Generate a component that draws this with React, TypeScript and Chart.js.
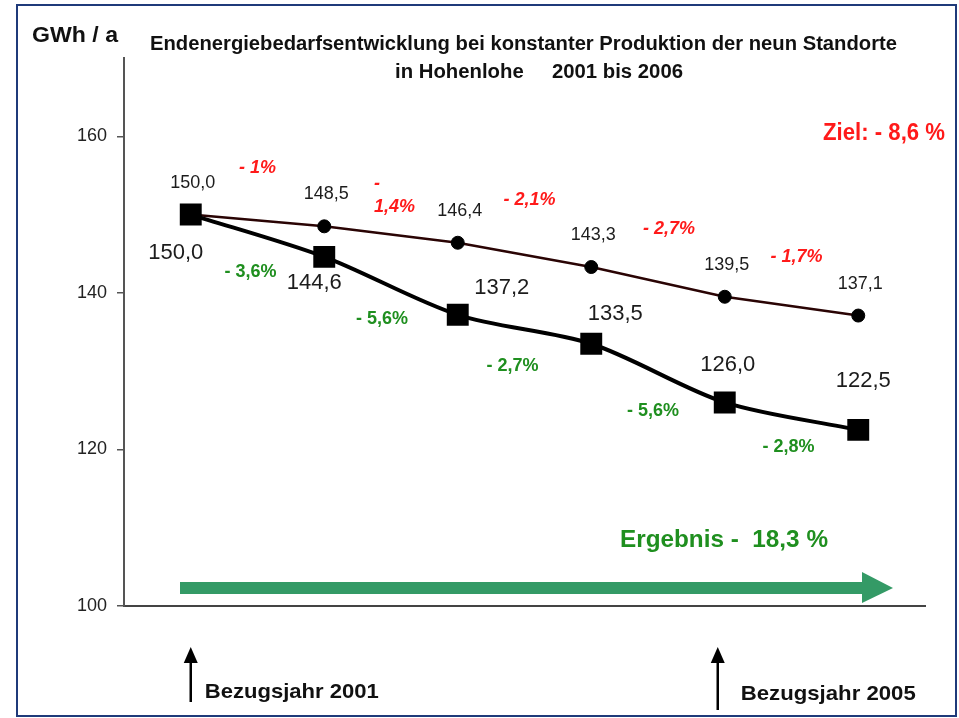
import React, { useEffect, useRef } from "react";
import { Chart, registerables } from "chart.js";

Chart.register(...registerables);

// ---- data ----
const years = ["2001", "2002", "2003", "2004", "2005", "2006"];
const targetValues = [150.0, 148.5, 146.4, 143.3, 139.5, 137.1];
const actualValues = [150.0, 144.6, 137.2, 133.5, 126.0, 122.5];
const targetPct = ["- 1%", "-\n1,4%", "- 2,1%", "- 2,7%", "- 1,7%"];
const actualPct = ["- 3,6%", "- 5,6%", "- 2,7%", "- 5,6%", "- 2,8%"];
const yTicks = [100, 120, 140, 160];
const yMin = 100;
const yMax = 170;
const titleLines = [
  "Endenergiebedarfsentwicklung bei konstanter Produktion der neun Standorte",
  "in Hohenlohe     2001 bis 2006",
];
const unitLabel = "GWh / a";
const goalLabel = "Ziel: - 8,6 %";
const resultLabel = "Ergebnis -  18,3 %";
const refYearLabels = ["Bezugsjahr 2001", "Bezugsjahr 2005"];
const refYearIndex = [0, 4];

// ---- layout / style (not data) ----
const FONT = '"Liberation Sans", Arial, Helvetica, sans-serif';
const RED = "#ff1a1a";
const GREEN = "#1f8f1f";
const ARROW_GREEN = "#349a66";
const DARK = "#1c1c1c";

const targetLabelOffset = [2, -32];
const actualLabelOffsets = [
  [-15, 38],
  [-10, 26],
  [44, -27],
  [24, -30],
  [3, -38],
  [5, -49],
];
const redPctOffsets = [
  [0, -52],
  [-17, -40],
  [5, -55],
  [11, -53],
  [5, -49],
];
const greenPctOffsets = [
  [-7, 36],
  [-9, 33],
  [-12, 37],
  [-5, 38],
  [-3, 31],
];

const fmt = (v: number) => v.toFixed(1).replace(".", ",");

function fitText(
  ctx: CanvasRenderingContext2D,
  s: string,
  left: number,
  baseline: number,
  width: number,
  font: string,
  color: string
) {
  ctx.save();
  ctx.font = font;
  ctx.fillStyle = color;
  ctx.textAlign = "left";
  ctx.textBaseline = "alphabetic";
  const w = ctx.measureText(s).width;
  ctx.translate(left, baseline);
  ctx.scale(width / w, 1);
  ctx.fillText(s, 0, 0);
  ctx.restore();
}

function centerText(
  ctx: CanvasRenderingContext2D,
  s: string,
  x: number,
  y: number,
  font: string,
  color: string
) {
  ctx.save();
  ctx.font = font;
  ctx.fillStyle = color;
  ctx.textAlign = "center";
  ctx.textBaseline = "middle";
  ctx.fillText(s, x, y);
  ctx.restore();
}

function upArrow(ctx: CanvasRenderingContext2D, x: number, top: number, bottom: number) {
  ctx.save();
  ctx.strokeStyle = "#000";
  ctx.fillStyle = "#000";
  ctx.lineWidth = 2.5;
  ctx.beginPath();
  ctx.moveTo(x, top + 12);
  ctx.lineTo(x, bottom);
  ctx.stroke();
  ctx.beginPath();
  ctx.moveTo(x, top);
  ctx.lineTo(x - 7, top + 16);
  ctx.lineTo(x + 7, top + 16);
  ctx.closePath();
  ctx.fill();
  ctx.restore();
}

const annotations = {
  id: "annotations",
  beforeDraw(chart: any) {
    const ctx = chart.ctx;
    ctx.save();
    ctx.fillStyle = "#fff";
    ctx.fillRect(0, 0, chart.width, chart.height);
    ctx.restore();
  },
  afterDatasetsDraw(chart: any) {
    const ctx: CanvasRenderingContext2D = chart.ctx;
    const area = chart.chartArea;
    const actualMeta = chart.getDatasetMeta(0).data;
    const targetMeta = chart.getDatasetMeta(1).data;
    const xScale = chart.scales.x;

    // value labels of target line
    targetMeta.forEach((p: any, i: number) => {
      centerText(
        ctx,
        fmt(targetValues[i]),
        p.x + targetLabelOffset[0],
        p.y + targetLabelOffset[1],
        `18px ${FONT}`,
        DARK
      );
    });
    // value labels of actual line
    actualMeta.forEach((p: any, i: number) => {
      const o = actualLabelOffsets[i];
      centerText(ctx, fmt(actualValues[i]), p.x + o[0], p.y + o[1], `22px ${FONT}`, DARK);
    });
    // percentage changes (target, red italic)
    targetPct.forEach((s, i) => {
      const a = targetMeta[i];
      const b = targetMeta[i + 1];
      const mx = (a.x + b.x) / 2;
      const my = (a.y + b.y) / 2;
      const o = redPctOffsets[i];
      const font = `italic bold 18px ${FONT}`;
      if (s.includes("\n")) {
        const parts = s.split("\n");
        ctx.save();
        ctx.font = font;
        ctx.fillStyle = RED;
        ctx.textAlign = "left";
        ctx.textBaseline = "middle";
        ctx.fillText(parts[0], mx + o[0], my + o[1] - 11);
        ctx.fillText(parts[1], mx + o[0], my + o[1] + 12);
        ctx.restore();
      } else {
        centerText(ctx, s, mx + o[0], my + o[1], font, RED);
      }
    });
    // percentage changes (actual, green)
    actualPct.forEach((s, i) => {
      const a = actualMeta[i];
      const b = actualMeta[i + 1];
      const mx = (a.x + b.x) / 2;
      const my = (a.y + b.y) / 2;
      const o = greenPctOffsets[i];
      centerText(ctx, s, mx + o[0], my + o[1], `bold 18px ${FONT}`, GREEN);
    });

    // big green arrow
    const ay = area.bottom - 18;
    const ax0 = area.left + 56;
    const ax1 = area.right - 32;
    ctx.save();
    ctx.fillStyle = ARROW_GREEN;
    ctx.fillRect(ax0, ay - 6, ax1 - 30 - ax0, 12);
    ctx.beginPath();
    ctx.moveTo(ax1 - 31, ay - 16);
    ctx.lineTo(ax1, ay);
    ctx.lineTo(ax1 - 31, ay + 15);
    ctx.closePath();
    ctx.fill();
    ctx.restore();

    // result text
    fitText(ctx, resultLabel, 620, 547, 208, `bold 24px ${FONT}`, GREEN);

    // reference year arrows
    const x1 = xScale.getPixelForValue(refYearIndex[0]);
    const x2 = xScale.getPixelForValue(refYearIndex[1]) - 7;
    upArrow(ctx, x1, area.bottom + 41, area.bottom + 96);
    upArrow(ctx, x2, area.bottom + 41, area.bottom + 104);
    fitText(ctx, refYearLabels[0], x1 + 14, 698, 174, `bold 21px ${FONT}`, "#111");
    fitText(ctx, refYearLabels[1], x2 + 23, 700, 175, `bold 21px ${FONT}`, "#111");

    // titles and side labels
    fitText(ctx, titleLines[0], 150, 50, 747, `bold 20px ${FONT}`, "#111");
    fitText(ctx, titleLines[1], 395, 78, 288, `bold 20px ${FONT}`, "#111");
    fitText(ctx, unitLabel, 32, 42, 86, `bold 22px ${FONT}`, "#111");
    fitText(ctx, goalLabel, 823, 140, 122, `bold 23px ${FONT}`, RED);
  },
  afterDraw(chart: any) {
    const ctx = chart.ctx;
    ctx.save();
    ctx.strokeStyle = "#1f3a7a";
    ctx.lineWidth = 2;
    ctx.strokeRect(17, 5, 939, 711);
    ctx.restore();
  },
};

export default function App() {
  const ref = useRef<HTMLCanvasElement | null>(null);

  useEffect(() => {
    if (!ref.current) return;
    const chart = new Chart(ref.current, {
      type: "line",
      data: {
        labels: years,
        datasets: [
          {
            label: "Ist",
            data: actualValues,
            borderColor: "#000",
            borderWidth: 4,
            tension: 0.3,
            pointStyle: "rect",
            pointRadius: 15.5,
            pointHoverRadius: 15.5,
            pointBackgroundColor: "#000",
            pointBorderColor: "#000",
            pointBorderWidth: 0,
            fill: false,
          },
          {
            label: "Ziel",
            data: targetValues,
            borderColor: "#2a0404",
            borderWidth: 2.5,
            tension: 0,
            pointStyle: "circle",
            pointRadius: 6.5,
            pointHoverRadius: 6.5,
            pointBackgroundColor: "#000",
            pointBorderColor: "#000",
            pointBorderWidth: 1,
            fill: false,
          },
        ],
      },
      options: {
        animation: false,
        responsive: false,
        maintainAspectRatio: false,
        events: [],
        layout: { padding: { top: 58, right: 34, left: 0, bottom: 0 } },
        plugins: {
          legend: { display: false },
          tooltip: { enabled: false },
          title: { display: false },
        },
        scales: {
          x: {
            type: "category",
            offset: true,
            ticks: { display: false },
            grid: { display: false },
            border: { display: true, color: "#444", width: 2 },
            afterFit: (s: any) => {
              s.height = 112;
            },
          },
          y: {
            type: "linear",
            min: yMin,
            max: yMax,
            afterBuildTicks: (s: any) => {
              s.ticks = yTicks.map((v) => ({ value: v }));
            },
            afterFit: (s: any) => {
              s.width = 124;
            },
            ticks: {
              font: { size: 18, family: FONT },
              color: "#222",
              padding: 10,
              callback: (v: any) => String(v),
            },
            grid: {
              drawOnChartArea: false,
              drawTicks: true,
              tickLength: 7,
              color: "#555",
              lineWidth: 1.5,
            },
            border: { display: true, color: "#555", width: 2 },
          },
        },
      },
      plugins: [annotations],
    });
    return () => chart.destroy();
  }, []);

  return (
    <div style={{ position: "absolute", left: 0, top: 0, width: 959, height: 718, background: "#fff" }}>
      <canvas ref={ref} width={959} height={718} style={{ display: "block" }} />
    </div>
  );
}
